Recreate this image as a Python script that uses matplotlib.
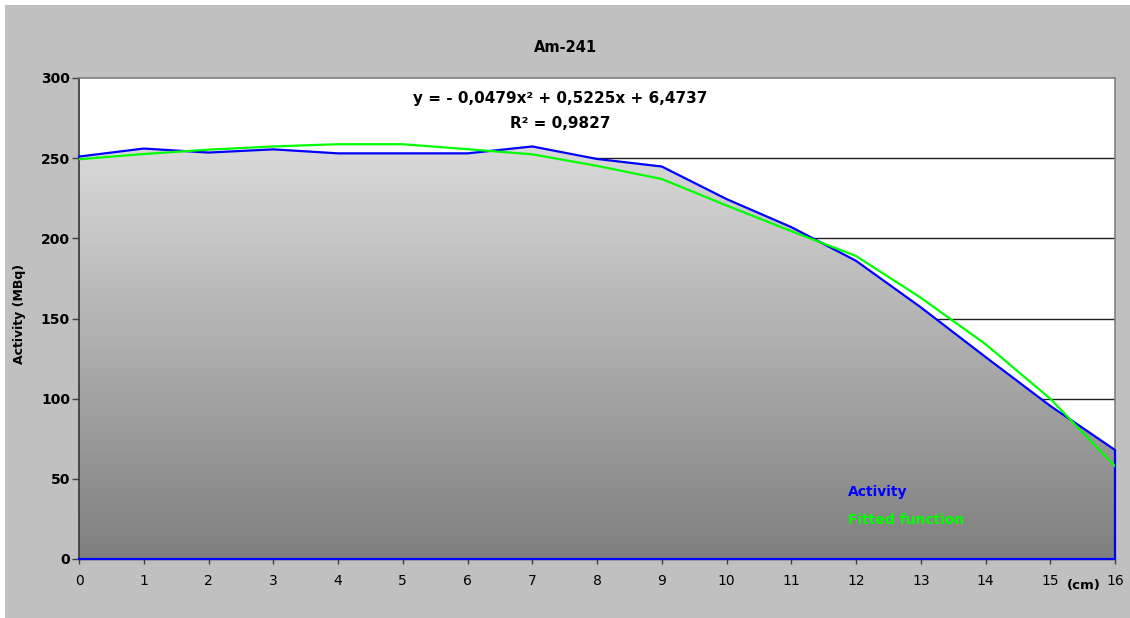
import numpy as np
import matplotlib
matplotlib.use("Agg")
import matplotlib.pyplot as plt
from matplotlib.colors import LinearSegmentedColormap
from matplotlib.patches import Rectangle

# ---- data ----
positions_cm = [0, 1, 2, 3, 4, 5, 6, 7, 8, 9, 10, 11, 12, 13, 14, 15, 16]
activity = [251, 256, 253.5, 255.5, 253, 253, 253, 257.3, 249.5, 244.8,
            224.5, 207, 186, 157, 126, 95.5, 68]
fitted = [249.3, 252.6, 255.3, 257.3, 258.7, 258.7, 255.6, 252.4, 245.2, 237,
          220.5, 204.5, 189, 163, 134, 100, 58]
y_ticks = [0, 50, 100, 150, 200, 250, 300]
x_ticks = list(range(0, 17))
title = "Am-241"
equation = "y = - 0,0479x² + 0,5225x + 6,4737"
r_squared = "R² = 0,9827"

W, H = 1130, 618
fig = plt.figure(figsize=(W / 100, H / 100), dpi=100)
fig.patch.set_facecolor("white")
bg = Rectangle((5 / W, 0), 1 - 5 / W, 1 - 5 / H, transform=fig.transFigure,
               facecolor="#c0c0c0", edgecolor="none", zorder=-10)
fig.add_artist(bg)

L, R, T, B = 79, 1115, 78, 559
ax = fig.add_axes([L / W, 1 - B / H, (R - L) / W, (B - T) / H])
ax.set_zorder(5)
ax.set_facecolor("white")

# gridlines (hidden under the area)
for yv in y_ticks[1:-1]:
    ax.axhline(yv, color="#202020", lw=1.0, zorder=0.5)

# gradient-filled area
xs = np.array(positions_cm, dtype=float)
ys = np.array(activity, dtype=float)
poly_x = np.concatenate([[xs[0]], xs, [xs[-1]]])
poly_y = np.concatenate([[0], ys, [0]])
poly = ax.fill(poly_x, poly_y, facecolor="none", edgecolor="none")[0]
cmap = LinearSegmentedColormap.from_list("g", ["#7f7f7f", "#dadada"])
grad = np.linspace(0, 1, 256).reshape(-1, 1)
im = ax.imshow(grad, extent=[xs[0], xs[-1], 0, ys.max()], origin="lower",
               cmap=cmap, aspect="auto", zorder=1, interpolation="bilinear")
im.set_clip_path(poly)

# outline of area (blue)
ax.plot(np.concatenate([xs, [xs[-1], xs[0]]]), np.concatenate([ys, [0, 0]]),
        color="#0000ff", lw=1.6, zorder=3, solid_joinstyle="round", clip_on=False)
# fitted function (green)
ax.plot(xs, fitted, color="#00ff00", lw=1.6, zorder=4)

ax.set_xlim(0, 16)
ax.set_ylim(0, 300)
ax.set_yticks(y_ticks)
ax.set_xticks(x_ticks)
ax.set_yticklabels([str(v) for v in y_ticks], fontweight="bold", fontsize=10, color="#000000")
ax.set_xticklabels([str(v) for v in x_ticks], fontsize=10, color="#000000")
ax.tick_params(axis="y", direction="out", length=5, width=1, color="#404040", pad=1.5)
ax.tick_params(axis="x", direction="out", length=3.6, width=1, color="#404040", pad=7)

for s in ["top", "right"]:
    ax.spines[s].set_color("#808080")
    ax.spines[s].set_linewidth(1.2)
ax.spines["left"].set_color("#404040")
ax.spines["left"].set_linewidth(1.3)
ax.spines["bottom"].set_color("#404040")
ax.spines["bottom"].set_linewidth(1.0)

def fx(px):
    return px / W

def fy(py):
    return 1 - py / H

fig.text(fx(565), fy(47), title, ha="center", va="center", fontsize=10.5, fontweight="bold")
fig.text(fx(560), fy(98), equation, ha="center", va="center", fontsize=11, fontweight="bold", zorder=10)
fig.text(fx(560), fy(123), r_squared, ha="center", va="center", fontsize=11, fontweight="bold", zorder=10)
fig.text(fx(20), fy(314), "Activity (MBq)", ha="center", va="center", rotation=90,
         fontsize=9, fontweight="bold")
fig.text(fx(1084), fy(586), "(cm)", ha="center", va="center", fontsize=9.5, fontweight="bold")
fig.text(fx(848), fy(492), "Activity", ha="left", va="center", fontsize=10,
         fontweight="bold", color="#0000ff", zorder=10)
fig.text(fx(848), fy(520), "Fitted function", ha="left", va="center", fontsize=10,
         fontweight="bold", color="#00ff00", zorder=10)

fig.savefig("out.png", dpi=100, facecolor=fig.get_facecolor())
